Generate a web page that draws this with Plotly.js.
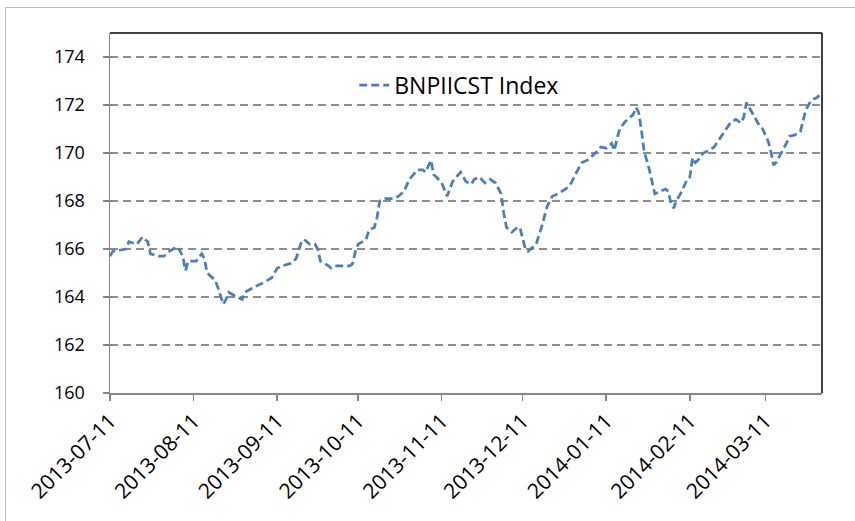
<!DOCTYPE html>
<html>
<head>
<meta charset="utf-8">
<script src="https://cdn.plot.ly/plotly-3.0.1.min.js"></script>
<style>
  html, body { margin: 0; padding: 0; background: #ffffff; overflow: hidden; }
  #frame { position: absolute; left: 5px; top: 7px; width: 1000px; height: 1000px;
           border-left: 1px solid #bcbcbc; border-top: 1px solid #bcbcbc; }
  #chart { position: absolute; left: 0; top: 0; width: 855px; height: 521px; }
</style>
</head>
<body>
<div id="frame"></div>
<div id="chart"></div>
<script>
const seriesName = 'BNPIICST Index';

const dates = [
  '2013-07-11','2013-07-12','2013-07-17','2013-07-18','2013-07-21','2013-07-23','2013-07-25','2013-07-26',
  '2013-07-29','2013-07-31','2013-08-02','2013-08-05','2013-08-07','2013-08-08','2013-08-09','2013-08-12',
  '2013-08-14','2013-08-15','2013-08-16','2013-08-19','2013-08-20','2013-08-21','2013-08-22','2013-08-23',
  '2013-08-24','2013-08-27','2013-08-29','2013-08-30','2013-09-02','2013-09-04','2013-09-06','2013-09-09',
  '2013-09-11','2013-09-13','2013-09-16','2013-09-18','2013-09-20','2013-09-21','2013-09-23','2013-09-25',
  '2013-09-26','2013-09-27','2013-09-30','2013-10-01','2013-10-03','2013-10-04','2013-10-08','2013-10-09',
  '2013-10-10','2013-10-11','2013-10-14','2013-10-15','2013-10-17','2013-10-18','2013-10-19','2013-10-21',
  '2013-10-24','2013-10-26','2013-10-28','2013-10-30','2013-11-01','2013-11-02','2013-11-04','2013-11-05',
  '2013-11-07','2013-11-08','2013-11-09','2013-11-11','2013-11-13','2013-11-15','2013-11-16','2013-11-18',
  '2013-11-20','2013-11-22','2013-11-23','2013-11-25','2013-11-27','2013-11-29','2013-12-01','2013-12-03',
  '2013-12-04','2013-12-05','2013-12-07','2013-12-09','2013-12-10','2013-12-11','2013-12-12','2013-12-13',
  '2013-12-15','2013-12-16','2013-12-18','2013-12-20','2013-12-22','2013-12-24','2013-12-27','2013-12-29',
  '2013-12-31','2014-01-02','2014-01-04','2014-01-07','2014-01-09','2014-01-11','2014-01-13','2014-01-14',
  '2014-01-15','2014-01-16','2014-01-18','2014-01-20','2014-01-21','2014-01-22','2014-01-23','2014-01-24',
  '2014-01-25','2014-01-27','2014-01-28','2014-01-29','2014-01-31','2014-02-02','2014-02-03','2014-02-04',
  '2014-02-05','2014-02-06','2014-02-08','2014-02-10','2014-02-11','2014-02-12','2014-02-13','2014-02-14',
  '2014-02-16','2014-02-18','2014-02-20','2014-02-22','2014-02-24','2014-02-26','2014-02-28','2014-03-02',
  '2014-03-03','2014-03-04','2014-03-05','2014-03-07','2014-03-09','2014-03-10','2014-03-12','2014-03-13',
  '2014-03-14','2014-03-15','2014-03-17','2014-03-19','2014-03-20','2014-03-22','2014-03-24','2014-03-25',
  '2014-03-26','2014-03-28','2014-03-30','2014-03-31'
];

const values = [
  165.7,165.9,166.0,166.3,166.2,166.5,166.3,165.8,
  165.7,165.7,165.9,166.1,165.7,165.1,165.5,165.5,
  165.8,165.6,165.0,164.7,164.4,164.0,163.7,163.9,
  164.2,164.0,163.9,164.2,164.4,164.5,164.6,164.8,
  165.2,165.3,165.4,165.6,166.3,166.4,166.2,166.2,
  166.0,165.5,165.3,165.2,165.3,165.3,165.3,165.4,
  165.9,166.2,166.4,166.8,166.9,167.3,168.0,168.1,
  168.1,168.2,168.4,168.9,169.2,169.3,169.3,169.2,
  169.7,169.1,169.0,168.75,168.2,168.8,168.95,169.2,
  168.8,168.7,168.9,169.0,168.75,168.9,168.75,168.3,
  167.5,166.9,166.7,166.9,166.9,166.5,166.0,165.9,
  166.1,166.2,166.9,167.75,168.2,168.3,168.5,168.75,
  169.2,169.6,169.7,170.0,170.25,170.2,170.4,170.1,
  170.6,171.0,171.3,171.5,171.6,171.9,171.7,171.0,
  170.1,169.3,168.75,168.3,168.4,168.5,168.4,167.9,
  167.7,168.0,168.4,168.9,169.0,169.8,169.6,169.7,
  170.0,170.1,170.25,170.6,170.9,171.25,171.4,171.25,
  171.5,172.1,171.9,171.5,171.1,171.0,170.5,170.1,
  169.5,169.6,170.0,170.45,170.7,170.75,170.9,171.4,
  171.8,172.2,172.3,172.4
];

const xTickVals = ['2013-07-11','2013-08-11','2013-09-11','2013-10-11','2013-11-11',
                   '2013-12-11','2014-01-11','2014-02-11','2014-03-11'];
const xTickText = ['2013-07-11','2013-08-11','2013-09-11','2013-10-11','2013-11-11',
                   '2013-12-11','2014-01-11','2014-02-11','2014-03-11'];
const xRange = ['2013-07-11','2014-04-01'];
const yRange = [160, 175];
const yTickVals = [160,162,164,166,168,170,172,174];

const FONT = 'Open Sans, Lato, sans-serif';

const trace = {
  x: dates, y: values, type: 'scatter', mode: 'lines', name: seriesName,
  line: { color: '#4a7ebb', width: 2.75, dash: '8px,4px' },
  showlegend: true
};

const layout = {
  width: 855, height: 521,
  margin: { l: 110, r: 33, t: 33, b: 128, pad: 0 },
  paper_bgcolor: 'rgba(0,0,0,0)',
  plot_bgcolor: '#ffffff',
  font: { family: FONT, size: 18, color: '#000000' },
  showlegend: true,
  legend: {
    x: 0.343, xanchor: 'left', y: 0.855, yanchor: 'middle',
    bgcolor: 'rgba(255,255,255,0)', borderwidth: 0,
    font: { family: FONT, size: 23, color: '#000000' }
  },
  xaxis: {
    type: 'date', range: xRange, tickmode: 'array',
    tickvals: xTickVals, ticktext: xTickText, tickangle: -45,
    showgrid: false, zeroline: false,
    showline: true, linecolor: '#868686', linewidth: 1.5,
    ticks: 'outside', ticklen: 6, tickcolor: '#868686', tickwidth: 1.5,
    tickfont: { family: FONT, size: 21, color: '#000000' }
  },
  yaxis: {
    range: yRange, tickmode: 'array', tickvals: yTickVals,
    showgrid: true, gridcolor: '#8c8c8c', gridwidth: 1.5, griddash: '8px,5px',
    zeroline: false,
    showline: true, linecolor: '#868686', linewidth: 1.5,
    ticks: 'outside', ticklen: 6, tickcolor: '#868686', tickwidth: 1.5,
    ticklabelstandoff: 14,
    tickfont: { family: FONT, size: 18, color: '#000000' }
  },
  shapes: [
    { type: 'line', xref: 'paper', yref: 'paper', x0: 0, x1: 1, y0: 1, y1: 1,
      line: { color: '#000000', width: 1.5 } },
    { type: 'line', xref: 'paper', yref: 'paper', x0: 1, x1: 1, y0: 0, y1: 1,
      line: { color: '#000000', width: 1.5 } }
  ]
};

Plotly.newPlot('chart', [trace], layout, { displayModeBar: false, staticPlot: true });
</script>
</body>
</html>
